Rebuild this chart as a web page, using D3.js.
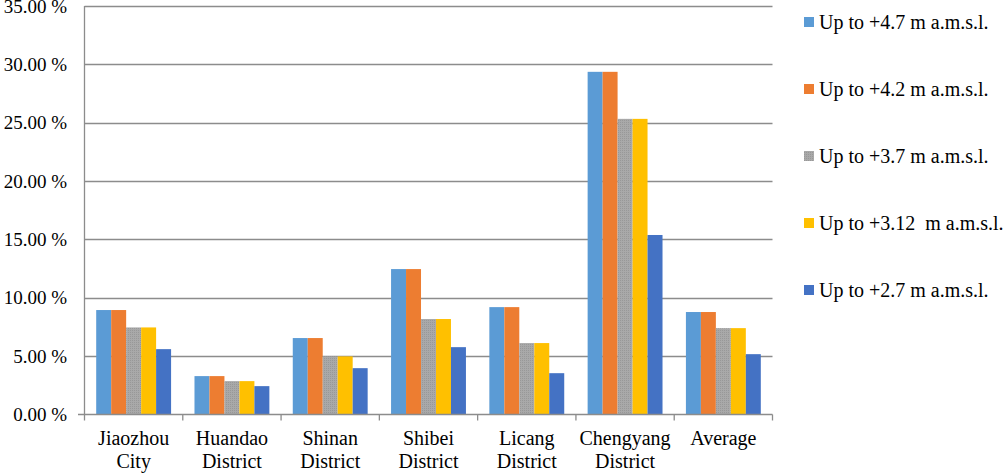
<!DOCTYPE html>
<html>
<head>
<meta charset="utf-8">
<script src="https://cdn.jsdelivr.net/npm/d3@7"></script>
<style>
  body { margin: 0; background: #fff; }
</style>
</head>
<body>
<svg id="chart" width="1007" height="474"></svg>
<script>
// categories (two label lines each)
var categories = ["Jiaozhou City", "Huandao District", "Shinan District", "Shibei District",
                  "Licang District", "Chengyang District", "Average"];
var labelLines = [["Jiaozhou", "City"], ["Huandao", "District"], ["Shinan", "District"],
                  ["Shibei", "District"], ["Licang", "District"], ["Chengyang", "District"], ["Average"]];
var seriesNames = ["Up to +4.7 m a.m.s.l.", "Up to +4.2 m a.m.s.l.", "Up to +3.7 m a.m.s.l.",
                   "Up to +3.12  m a.m.s.l.", "Up to +2.7 m a.m.s.l."];
// values in %
var s47  = [8.95, 3.29, 6.55, 12.46, 9.20, 29.36, 8.78];
var s42  = [8.95, 3.29, 6.55, 12.46, 9.20, 29.36, 8.78];
var s37  = [7.46, 2.86, 4.98, 8.18, 6.12, 25.33, 7.40];
var s312 = [7.46, 2.86, 4.98, 8.18, 6.12, 25.33, 7.40];
var s27  = [5.60, 2.43, 3.97, 5.77, 3.54, 15.38, 5.17];
var yTicks = [0, 5, 10, 15, 20, 25, 30, 35];

var allSeries = [s47, s42, s37, s312, s27];
var colors = ["#5b9bd5", "#ed7d31", "url(#grayDots)", "#ffc000", "#4472c4"];
var serif = "'Liberation Serif', 'Times New Roman', Tinos, serif";

var svg = d3.select("#chart")
    .attr("font-family", serif);

// dotted texture for the gray series
var pat = svg.append("defs").append("pattern")
    .attr("id", "grayDots")
    .attr("width", 2).attr("height", 2)
    .attr("patternUnits", "userSpaceOnUse");
pat.append("rect").attr("width", 2).attr("height", 2).attr("fill", "#a9a9a9");
pat.append("rect").attr("width", 1).attr("height", 1).attr("fill", "#989898");

var plotLeft = 84.5, plotRight = 772.5, plotTop = 6, plotBottom = 414.5;

var x = d3.scaleBand()
    .domain(categories)
    .range([plotLeft, plotRight])
    .paddingInner(0)
    .paddingOuter(0);

var x1 = d3.scaleBand()
    .domain(d3.range(seriesNames.length))
    .range([11.7, x.bandwidth() - 11.7]);

var y = d3.scaleLinear()
    .domain([0, 35])
    .range([plotBottom, plotTop]);

// gridlines
svg.append("g")
  .selectAll("line")
  .data(yTicks.filter(function(d) { return d > 0; }))
  .enter()
  .append("line")
    .attr("x1", plotLeft).attr("x2", plotRight)
    .attr("y1", function(d) { return Math.round(y(d)) + 0.5; })
    .attr("y2", function(d) { return Math.round(y(d)) + 0.5; })
    .attr("stroke", "#8c8c8c")
    .attr("stroke-width", 1.3);

// y labels
svg.append("g")
  .selectAll("text")
  .data(yTicks)
  .enter()
  .append("text")
    .attr("x", 67)
    .attr("y", function(d) { return y(d); })
    .attr("dy", "0.35em")
    .attr("text-anchor", "end")
    .attr("font-family", serif)
    .attr("font-size", 19)
    .text(function(d) { return d.toFixed(2) + " %"; });

// bars
var groups = svg.append("g")
  .selectAll("g")
  .data(allSeries)
  .enter()
  .append("g")
    .attr("fill", function(d, i) { return colors[i]; });

groups.each(function(vals, si) {
  d3.select(this).selectAll("rect")
    .data(vals)
    .enter()
    .append("rect")
      .attr("x", function(d, ci) { return x(categories[ci]) + x1(si); })
      .attr("width", x1.bandwidth())
      .attr("y", function(d) { return y(d); })
      .attr("height", function(d) { return plotBottom - y(d); });
});

// axes lines
svg.append("line")
    .attr("x1", plotLeft).attr("x2", plotLeft)
    .attr("y1", plotTop).attr("y2", plotBottom)
    .attr("stroke", "#8c8c8c").attr("stroke-width", 1.3);
svg.append("line")
    .attr("x1", 78).attr("x2", plotRight)
    .attr("y1", plotBottom).attr("y2", plotBottom)
    .attr("stroke", "#8c8c8c").attr("stroke-width", 1.3);

// category ticks
svg.append("g")
  .selectAll("line")
  .data(categories.concat(["end"]))
  .enter()
  .append("line")
    .attr("x1", function(d) { return d === "end" ? plotRight : x(d); })
    .attr("x2", function(d) { return d === "end" ? plotRight : x(d); })
    .attr("y1", plotBottom).attr("y2", plotBottom + 6)
    .attr("stroke", "#8c8c8c").attr("stroke-width", 1.3);

// category labels
var lab = svg.append("g")
  .selectAll("text")
  .data(categories)
  .enter()
  .append("text")
    .attr("text-anchor", "middle")
    .attr("font-family", serif)
    .attr("font-size", 20)
    .attr("transform", function(d) { return "translate(" + (x(d) + x.bandwidth() / 2) + ",445)"; });
lab.selectAll("tspan")
  .data(function(d, i) { return labelLines[i]; })
  .enter()
  .append("tspan")
    .attr("x", 0)
    .attr("y", function(d, i) { return i * 23; })
    .text(function(d) { return d; });

// legend
var leg = svg.append("g")
  .selectAll("g")
  .data(seriesNames)
  .enter()
  .append("g")
    .attr("transform", function(d, i) { return "translate(804," + (22 + i * 67) + ")"; });
leg.append("rect")
    .attr("x", 0).attr("y", -5)
    .attr("width", 10).attr("height", 10)
    .attr("fill", function(d, i) { return colors[i]; });
leg.append("text")
    .attr("x", 15)
    .attr("dy", "0.35em")
    .attr("font-family", serif)
    .attr("font-size", 20)
    .style("white-space", "pre")
    .text(function(d) { return d; });
</script>
</body>
</html>
